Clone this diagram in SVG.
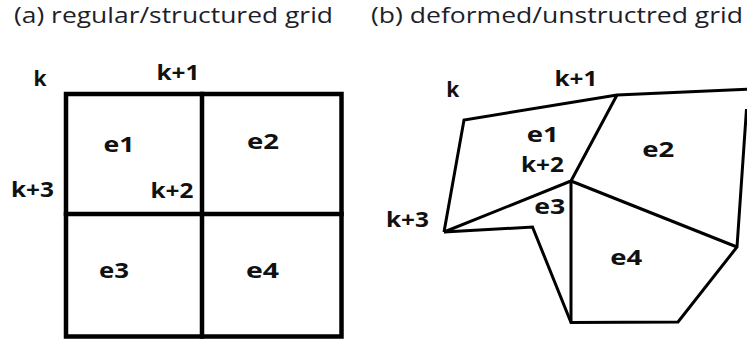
<svg xmlns="http://www.w3.org/2000/svg" width="747" height="343" viewBox="0 0 747 343">
<style>
.title{font-family:"Open Sans","Liberation Sans",sans-serif;font-size:21px;fill:#1e1e2a}
.lbl{font-family:"Open Sans","Liberation Sans",sans-serif;font-size:21px;font-weight:bold;fill:#111;text-anchor:middle}
.grid{fill:none;stroke:#000;stroke-width:4.5;stroke-linejoin:miter;stroke-linecap:square}
.mesh{fill:none;stroke:#000;stroke-width:3;stroke-linejoin:miter;stroke-linecap:butt}
</style>
<rect width="747" height="343" fill="#fff"/>
<g id="titles">
<text class="title" x="14" y="23" textLength="319" lengthAdjust="spacingAndGlyphs">(a) regular/structured grid</text>
<text class="title" x="371" y="23" textLength="372" lengthAdjust="spacingAndGlyphs">(b) deformed/unstructred grid</text>
</g>
<g id="regular-grid">
<rect class="grid" x="66" y="94" width="275.5" height="242.5"/>
<line class="grid" x1="202" y1="94" x2="202" y2="336.5"/>
<line class="grid" x1="66" y1="214" x2="341.5" y2="214"/>
</g>
<g id="regular-labels">
<text class="lbl" x="40" y="86" textLength="14">k</text>
<text class="lbl" x="178" y="80" textLength="43" lengthAdjust="spacingAndGlyphs">k+1</text>
<text class="lbl" x="119" y="151.5" textLength="31" lengthAdjust="spacingAndGlyphs">e1</text>
<text class="lbl" x="263" y="149" textLength="32" lengthAdjust="spacingAndGlyphs">e2</text>
<text class="lbl" x="32.5" y="197" textLength="43" lengthAdjust="spacingAndGlyphs">k+3</text>
<text class="lbl" x="172" y="198" textLength="43" lengthAdjust="spacingAndGlyphs">k+2</text>
<text class="lbl" x="114" y="278" textLength="30" lengthAdjust="spacingAndGlyphs">e3</text>
<text class="lbl" x="262.5" y="278" textLength="33" lengthAdjust="spacingAndGlyphs">e4</text>
</g>
<g id="deformed-mesh">
<path class="mesh" d="M444,232 L464,120 L617,95 L750,89"/>
<path class="mesh" d="M746.5,109 L737,247 L678,322 L571,322.5 L532.5,227 L444,232"/>
<path class="mesh" d="M617,95 L571,181 L444,232"/>
<path class="mesh" d="M571,181 L571,322.5"/>
<path class="mesh" d="M571,181 L737,247"/>
</g>
<g id="deformed-labels">
<text class="lbl" x="452.7" y="97" textLength="14">k</text>
<text class="lbl" x="576" y="86" textLength="43" lengthAdjust="spacingAndGlyphs">k+1</text>
<text class="lbl" x="542.7" y="141.7" textLength="32" lengthAdjust="spacingAndGlyphs">e1</text>
<text class="lbl" x="542.5" y="171.7" textLength="43" lengthAdjust="spacingAndGlyphs">k+2</text>
<text class="lbl" x="658.3" y="157.3" textLength="32" lengthAdjust="spacingAndGlyphs">e2</text>
<text class="lbl" x="549.7" y="214" textLength="31" lengthAdjust="spacingAndGlyphs">e3</text>
<text class="lbl" x="407.5" y="226.7" textLength="43" lengthAdjust="spacingAndGlyphs">k+3</text>
<text class="lbl" x="626.3" y="265" textLength="32" lengthAdjust="spacingAndGlyphs">e4</text>
</g>
</svg>
